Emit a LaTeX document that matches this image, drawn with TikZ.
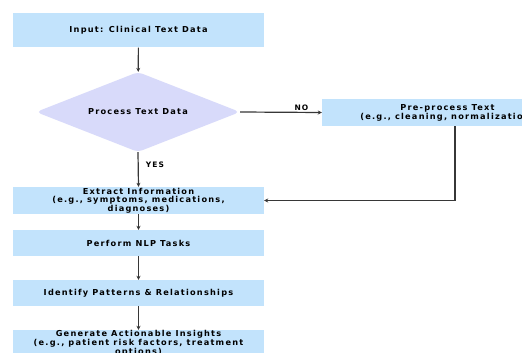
\documentclass[tikz,border=0pt]{standalone}
\usepackage{fontspec}
\setmainfont{DejaVu Sans}[LetterSpace=15]
\usetikzlibrary{shapes.geometric,arrows.meta}
\definecolor{boxblue}{RGB}{194,227,252}
\definecolor{declav}{RGB}{216,218,250}
\definecolor{linegray}{RGB}{55,55,55}
\begin{document}
\begin{tikzpicture}[x=1pt,y=-1pt,
  txt/.style={font=\fontsize{8.2}{7.8}\selectfont\bfseries},
  proc/.style={txt, fill=boxblue, draw=none, minimum width=251pt, minimum height=27pt, inner sep=0pt, align=center},
  decision/.style={txt, shape=diamond, fill=declav, draw=none, aspect=2.55, minimum width=204pt, minimum height=80pt, inner sep=0pt, rounded corners=5pt},
  arr/.style={draw=linegray, line width=1.2pt, -{Stealth[length=4pt,width=4pt]}},
  lbl/.style={font=\fontsize{7.5}{8}\selectfont\bfseries, inner sep=1pt}]
\useasboundingbox (0,0) rectangle (522,353);
\clip (0,0) rectangle (522,353);
\fill[white] (0,0) rectangle (522,353);

\node[proc, minimum height=34pt] (inp) at (138.5,30.5) {Input: Clinical Text Data};
\node[decision] (dec) at (138,112) {Process Text Data};
\node[proc] (pre) at (447.5,112.5) {Pre-process Text\\(e.g., cleaning, normalization)};
\node[proc] (ext) at (138.5,200.5) {Extract Information\\(e.g., symptoms, medications,\\diagnoses)};
\node[proc, minimum height=26pt] (nlp) at (138.5,243) {Perform NLP Tasks};
\node[proc, minimum height=26pt] (pat) at (138.5,293) {Identify Patterns \& Relationships};
\node[proc] (gen) at (138.5,343.5) {Generate Actionable Insights\\(e.g., patient risk factors, treatment\\options)};

\coordinate (turn) at (455,200.5);

\draw[arr] (inp) -- (dec);
\draw[arr] (dec.east) -- (pre.west) node[lbl, pos=0.75, above] {NO};
\draw[arr] (dec.south) -- (ext.north) node[lbl, pos=0.35, right=6pt] {YES};
\draw[arr] (turn |- pre.south) -- (turn) -- (ext.east);
\draw[arr] (ext) -- (nlp);
\draw[arr] (nlp) -- (pat);
\draw[arr] (pat) -- (gen);
\end{tikzpicture}
\end{document}
